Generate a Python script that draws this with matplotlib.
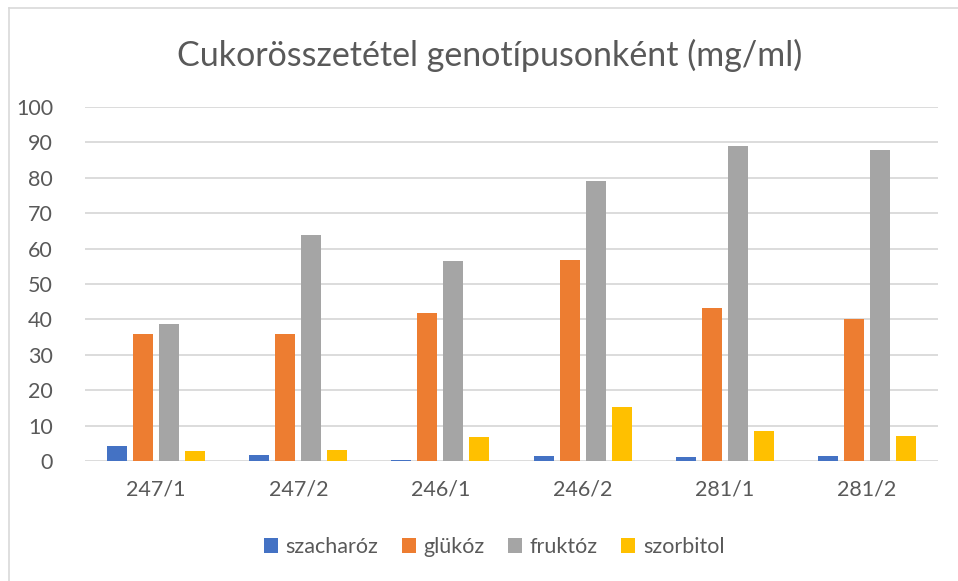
import matplotlib
matplotlib.use('Agg')
import matplotlib.pyplot as plt
import numpy as np

plt.rcParams['font.family'] = ['Lato', 'DejaVu Sans']

genotipusok = ['247/1', '247/2', '246/1', '246/2', '281/1', '281/2']
szacharoz = [4.1, 1.8, 0.3, 1.4, 1.2, 1.5]
glukoz = [35.8, 35.8, 41.9, 56.7, 43.1, 40.1]
fruktoz = [38.6, 63.9, 56.6, 79.2, 89.0, 87.8]
szorbitol = [2.9, 3.2, 6.7, 15.2, 8.5, 7.1]

sorozatok = ['szacharóz', 'glükóz', 'fruktóz', 'szorbitol']
ertekek = [szacharoz, glukoz, fruktoz, szorbitol]
szinek = ['#4472C4', '#ED7D31', '#A5A5A5', '#FFC000']

szurke = '#595959'

fig = plt.figure(figsize=(9.58, 5.81), dpi=100)
ax = fig.add_axes([85 / 958, 1 - 461 / 581, 853 / 958, 354 / 581])

x = np.arange(len(genotipusok))
lepes = 0.183
szel = 0.141
for i, (nev, v, c) in enumerate(zip(sorozatok, ertekek, szinek)):
    ax.bar(x + (i - 1.5) * lepes, v, width=szel, color=c, label=nev, zorder=3)

ax.set_ylim(0, 100)
ax.set_xlim(-0.5, len(genotipusok) - 0.5)
ax.set_yticks(np.arange(0, 101, 10))
ax.set_xticks(x)
ax.set_xticklabels(genotipusok)
ax.grid(axis='y', color='#D9D9D9', linewidth=1.3, zorder=0)
ax.set_axisbelow(True)
for s in ax.spines.values():
    s.set_visible(False)
ax.tick_params(axis='both', length=0, labelsize=15.5, colors=szurke)
ax.tick_params(axis='y', pad=23)
ax.tick_params(axis='x', pad=13)

fig.text(490 / 958, 1 - 55 / 581, 'Cukorösszetétel genotípusonként (mg/ml)',
         ha='center', va='center', fontsize=24.5, color=szurke)

fig.legend(loc='center', bbox_to_anchor=(494 / 958, 1 - 547 / 581), ncol=4,
           frameon=False, fontsize=15.5, labelcolor=szurke, handlelength=0.65,
           handleheight=0.65, handletextpad=0.35, columnspacing=1.1)

# keret
fig.add_artist(plt.Line2D([9 / 958, 9 / 958], [0, 1 - 8 / 581], color='#D9D9D9', lw=1.2))
fig.add_artist(plt.Line2D([9 / 958, 1], [1 - 8 / 581, 1 - 8 / 581], color='#D9D9D9', lw=1.2))

fig.savefig('out.png', dpi=100)
